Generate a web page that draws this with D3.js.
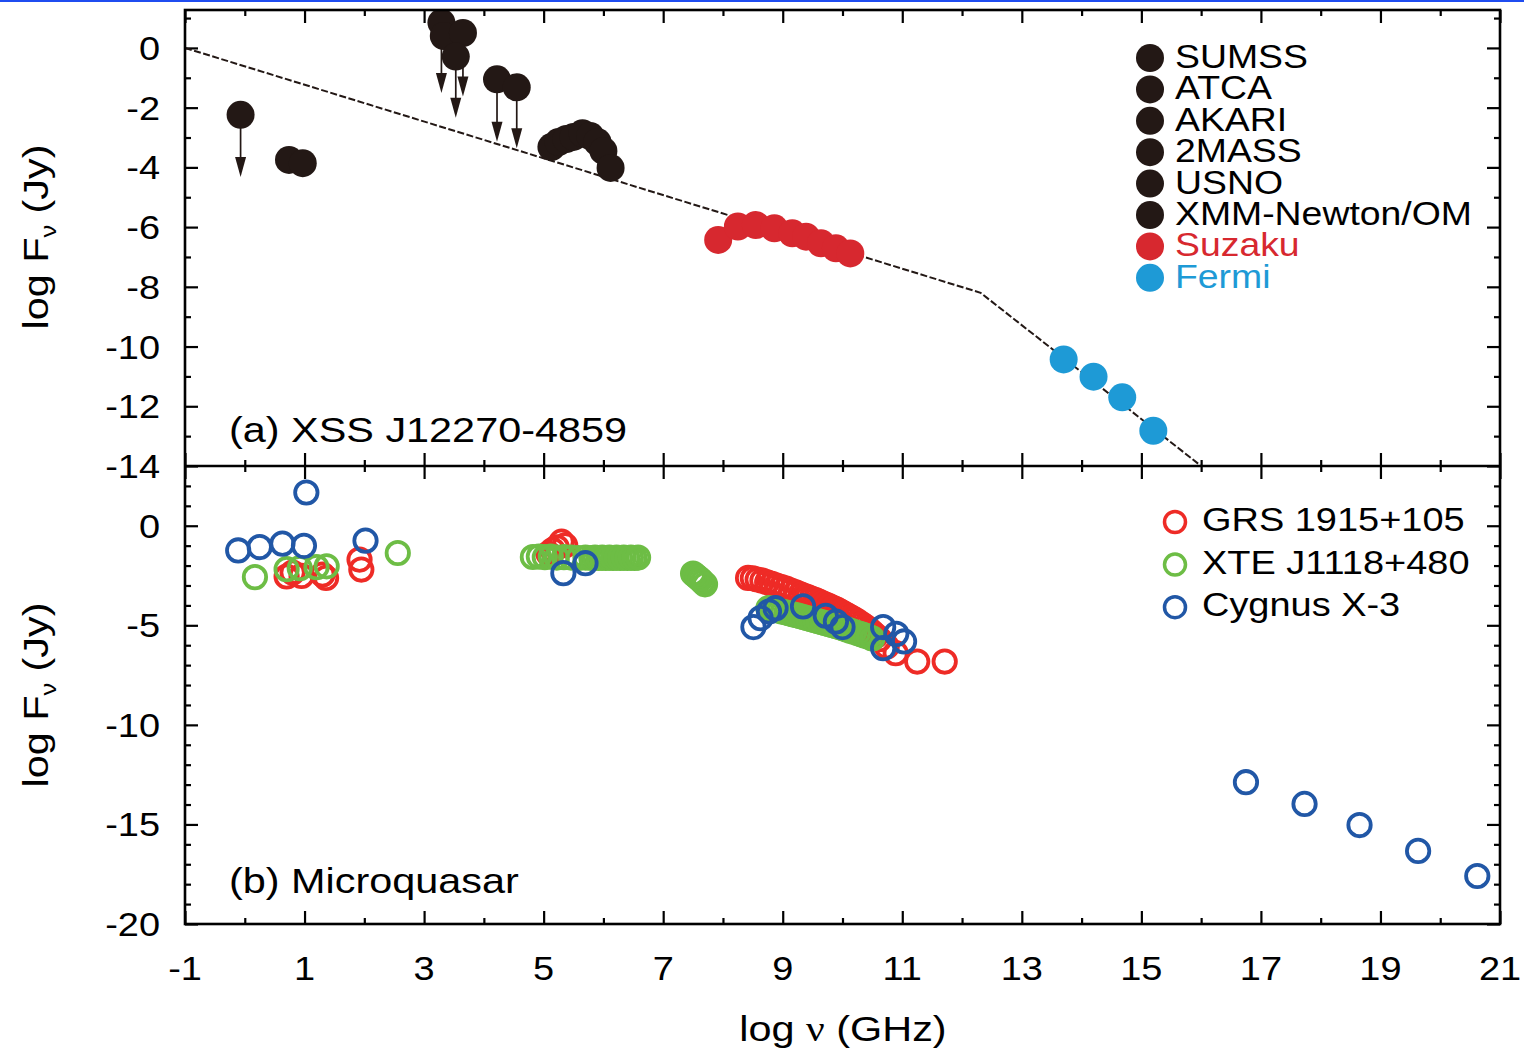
<!DOCTYPE html>
<html>
<head>
<meta charset="utf-8">
<script src="https://cdn.jsdelivr.net/npm/d3@7"></script>
<style>
  html, body { margin: 0; padding: 0; background: #fff; }
  svg { display: block; }
  text { font-family: "Liberation Sans", Arial, Helvetica, sans-serif; fill: #000; }
</style>
</head>
<body>
<svg id="chart" width="1524" height="1054"></svg>
<script>
// ---------- data ----------
// (a) XSS J12270-4859 : log nu [GHz], log F_nu [Jy]
const legendA = ["SUMSS", "ATCA", "AKARI", "2MASS", "USNO", "XMM-Newton/OM", "Suzaku", "Fermi"];
const legendAColor = ["#231815", "#231815", "#231815", "#231815", "#231815", "#231815", "#d7282f", "#1e9ad6"];

// radio / IR / optical / UV photometry (black)
const blackNu = [-0.07, 0.74, 0.97, 3.29, 3.33, 3.65, 3.53, 4.22, 4.55, 5.13, 5.25, 5.38, 5.50, 5.65, 5.78, 5.90, 6.00, 6.12];
const blackF  = [-2.24, -3.75, -3.86, 0.85, 0.40, 0.50, -0.29, -1.05, -1.32, -3.32, -3.15, -3.05, -2.98, -2.86, -2.95, -3.15, -3.45, -4.02];

// upper limits: arrow from the point down to the tip
const limitNu   = [-0.07, 3.29, 3.53, 3.65, 4.22, 4.55];
const limitFrom = [-2.24, 0.85, -0.29, 0.50, -1.05, -1.32];
const limitTo   = [-4.32, -1.51, -2.34, -1.63, -3.14, -3.36];

const suzakuNu = [7.92, 8.25, 8.55, 8.86, 9.16, 9.39, 9.64, 9.89, 10.13];
const suzakuF  = [-6.43, -5.98, -5.93, -6.04, -6.21, -6.32, -6.54, -6.71, -6.88];

const fermiNu = [13.70, 14.20, 14.68, 15.20];
const fermiF  = [-10.43, -11.01, -11.70, -12.82];

// broken power-law model (dashed)
const modelNu = [-1, 12.31, 16.0];
const modelF  = [0, -8.20, -14.0];

// (b) Microquasars
const legendB = ["GRS 1915+105", "XTE J1118+480", "Cygnus X-3"];
const legendBColor = ["#ee2b26", "#6dbd45", "#2157a6"];

const grsNu = [0.70, 0.80, 0.95, 1.30, 1.36, 1.92, 1.95, 5.08, 5.15, 5.22, 5.30, 5.36,
  8.42, 8.50, 8.58, 8.66, 8.74, 8.82, 8.90, 8.98, 9.06, 9.14, 9.22, 9.30, 9.36, 9.42, 9.48, 9.54,
  9.60, 9.66, 9.72, 9.78, 9.84, 9.90, 9.96, 10.02, 10.08, 10.14, 10.20, 10.26, 10.32, 10.38, 10.44,
  10.50, 10.56, 10.62, 10.74, 10.89, 11.25, 11.71];
const grsF = [-2.55, -2.35, -2.52, -2.45, -2.62, -1.70, -2.20, -1.40, -1.22, -1.08, -0.80, -0.98,
  -2.62, -2.64, -2.70, -2.76, -2.84, -2.92, -3.00, -3.08, -3.16, -3.26, -3.34, -3.44, -3.52, -3.58, -3.66, -3.72,
  -3.80, -3.88, -3.96, -4.04, -4.12, -4.20, -4.30, -4.40, -4.50, -4.60, -4.70, -4.82, -4.94, -5.06, -5.20,
  -5.36, -5.52, -5.70, -6.06, -6.40, -6.82, -6.82];

const xteNu = [0.17, 0.70, 0.92, 1.20, 1.37, 2.56,
  4.82, 4.92, 5.02, 5.12, 5.22, 5.34, 5.46, 5.58, 5.70, 5.80, 5.86, 5.92, 5.98, 6.04, 6.10, 6.16,
  6.22, 6.28, 6.34, 6.40, 6.46, 6.52, 6.58,
  7.50, 7.54, 7.58, 7.62, 7.66, 7.70,
  8.76, 8.82, 8.88, 8.94, 9.00, 9.06, 9.12, 9.18, 9.24, 9.30, 9.36, 9.42, 9.48, 9.54, 9.60, 9.66,
  9.72, 9.78, 9.84, 9.90, 9.96, 10.02, 10.08, 10.14, 10.20, 10.26, 10.32, 10.38, 10.44, 10.50];
const xteF = [-2.58, -2.18, -2.13, -2.08, -2.04, -1.37,
  -1.57, -1.55, -1.58, -1.55, -1.60, -1.58, -1.60, -1.62, -1.60, -1.62, -1.60, -1.62, -1.60, -1.62, -1.60, -1.62,
  -1.60, -1.62, -1.60, -1.62, -1.60, -1.62, -1.60,
  -2.40, -2.50, -2.60, -2.70, -2.82, -2.94,
  -4.14, -4.18, -4.22, -4.27, -4.32, -4.36, -4.41, -4.46, -4.50, -4.55, -4.60, -4.65, -4.70, -4.75, -4.80, -4.85,
  -4.90, -4.95, -5.00, -5.05, -5.10, -5.16, -5.22, -5.28, -5.34, -5.40, -5.46, -5.52, -5.58, -5.66];

const cygNu = [-0.11, 0.25, 0.63, 0.99, 1.03, 2.02, 5.33, 5.70,
  8.51, 8.63, 8.77, 8.88, 9.34, 9.72, 9.89, 10.00, 10.68, 10.68, 10.90, 11.03,
  16.75, 17.73, 18.65, 19.63, 20.62];
const cygF = [-1.24, -1.07, -0.90, -1.01, 1.67, -0.75, -2.38, -1.88,
  -5.09, -4.64, -4.31, -4.14, -4.05, -4.52, -4.81, -5.09, -5.09, -6.15, -5.43, -5.81,
  -12.88, -13.97, -15.03, -16.33, -17.59];

// axis ticks
const xTickLabels = [-1, 1, 3, 5, 7, 9, 11, 13, 15, 17, 19, 21];
const yTickLabelsA = [0, -2, -4, -6, -8, -10, -12, -14];
const yTickLabelsB = [0, -5, -10, -15, -20];

// ---------- layout ----------
const svg = d3.select("#chart");
const left = 185, right = 1500, topA = 10, mid = 466, bottomB = 924;
const SX = 1.15;          // horizontal text stretch
const MAJOR = 13, MINOR = 6;

const x = d3.scaleLinear().domain([-1, 21]).range([left, right]);
const yA = d3.scaleLinear().domain([-14, 1.27]).range([mid, topA]);
const yB = d3.scaleLinear().domain([-20, 3]).range([bottomB, mid]);

function label(parent, px, py, str, size, anchor, extra) {
  return parent.append("text")
    .attr("transform", `translate(${px},${py})${extra || ""} scale(${SX},1)`)
    .attr("text-anchor", anchor)
    .attr("font-size", size)
    .text(str);
}

// thin rule along the top edge of the page
svg.append("rect").attr("x", 0).attr("y", 0).attr("width", 1524).attr("height", 2).attr("fill", "#1f4cf0");

// ---------- ticks (inward on all sides) ----------
const axesG = svg.append("g");
function tickAxis(axisFn, scale, values, size, transform) {
  const g = axesG.append("g").attr("transform", transform)
    .call(axisFn(scale).tickValues(values).tickSize(size).tickFormat(""));
  g.select(".domain").remove();
  g.selectAll(".tick line").attr("stroke", "#000").attr("stroke-width", 2.2);
}
const xMajor = d3.range(-1, 22, 2);
const xMinor = d3.range(0, 21, 2);
// panel (a): top edge and divider
tickAxis(d3.axisTop, x, xMajor, -MAJOR, `translate(0,${topA})`);
tickAxis(d3.axisTop, x, xMinor, -MINOR, `translate(0,${topA})`);
tickAxis(d3.axisBottom, x, xMajor, -MAJOR, `translate(0,${mid})`);
tickAxis(d3.axisBottom, x, xMinor, -MINOR, `translate(0,${mid})`);
// panel (b): divider and bottom edge
tickAxis(d3.axisTop, x, xMajor, -MAJOR, `translate(0,${mid})`);
tickAxis(d3.axisTop, x, xMinor, -MINOR, `translate(0,${mid})`);
tickAxis(d3.axisBottom, x, xMajor, -MAJOR, `translate(0,${bottomB})`);
tickAxis(d3.axisBottom, x, xMinor, -MINOR, `translate(0,${bottomB})`);
// y ticks panel (a)
const yAMajor = d3.range(-14, 1, 2), yAMinor = d3.range(-13, 2, 2);
tickAxis(d3.axisLeft, yA, yAMajor, -MAJOR, `translate(${left},0)`);
tickAxis(d3.axisLeft, yA, yAMinor, -MINOR, `translate(${left},0)`);
tickAxis(d3.axisRight, yA, yAMajor, -MAJOR, `translate(${right},0)`);
tickAxis(d3.axisRight, yA, yAMinor, -MINOR, `translate(${right},0)`);
// y ticks panel (b)
const yBMajor = [-20, -15, -10, -5, 0];
const yBMinor = d3.range(-19, 3).filter(v => v % 5 !== 0);
tickAxis(d3.axisLeft, yB, yBMajor, -MAJOR, `translate(${left},0)`);
tickAxis(d3.axisLeft, yB, yBMinor, -MINOR, `translate(${left},0)`);
tickAxis(d3.axisRight, yB, yBMajor, -MAJOR, `translate(${right},0)`);
tickAxis(d3.axisRight, yB, yBMinor, -MINOR, `translate(${right},0)`);

// ---------- panel (a) ----------
svg.append("clipPath").attr("id", "clipA")
  .append("rect").attr("x", left).attr("y", topA).attr("width", right - left).attr("height", mid - topA);
const gA = svg.append("g").attr("clip-path", "url(#clipA)");

const line = d3.line().x(d => x(d[0])).y(d => yA(d[1]));
gA.append("path")
  .datum(modelNu.map((v, i) => [v, modelF[i]]))
  .attr("d", line)
  .attr("fill", "none").attr("stroke", "#231815").attr("stroke-width", 2)
  .attr("stroke-dasharray", "7,2.5");

// upper-limit arrows
const arrowG = gA.append("g");
limitNu.forEach((v, i) => {
  const ax = x(v), y0 = yA(limitFrom[i]), y1 = yA(limitTo[i]);
  arrowG.append("line").attr("x1", ax).attr("x2", ax).attr("y1", y0).attr("y2", y1 - 16)
    .attr("stroke", "#231815").attr("stroke-width", 1.7);
  arrowG.append("path")
    .attr("d", `M${ax - 5.5},${y1 - 20} L${ax + 5.5},${y1 - 20} L${ax},${y1} Z`)
    .attr("fill", "#231815");
});

function dots(g, xs, ys, yScale, color, r) {
  g.append("g").selectAll("circle")
    .data(xs.map((v, i) => [v, ys[i]]))
    .join("circle")
    .attr("cx", d => x(d[0])).attr("cy", d => yScale(d[1]))
    .attr("r", r).attr("fill", color);
}
dots(gA, blackNu, blackF, yA, "#231815", 14);
dots(gA, suzakuNu, suzakuF, yA, "#d7282f", 14);
dots(gA, fermiNu, fermiF, yA, "#1e9ad6", 14);

// legend (a)
const legA = svg.append("g");
legendA.forEach((name, i) => {
  const ly = 58 + i * 31.4;
  legA.append("circle").attr("cx", 1150).attr("cy", ly).attr("r", 14).attr("fill", legendAColor[i]);
  label(legA, 1175, ly + 10, name, 32.5, "start").style("fill", i < 6 ? "#000" : legendAColor[i]);
});

label(svg, 229, 442, "(a) XSS J12270-4859", 36, "start");

// ---------- panel (b) ----------
svg.append("clipPath").attr("id", "clipB")
  .append("rect").attr("x", left).attr("y", mid).attr("width", right - left).attr("height", bottomB - mid);
const gB = svg.append("g").attr("clip-path", "url(#clipB)");

function rings(g, xs, ys, color) {
  g.append("g").selectAll("circle")
    .data(xs.map((v, i) => [v, ys[i]]))
    .join("circle")
    .attr("cx", d => x(d[0])).attr("cy", d => yB(d[1]))
    .attr("r", 11.2).attr("fill", "none")
    .attr("stroke", color).attr("stroke-width", 3.8);
}
rings(gB, grsNu, grsF, legendBColor[0]);
rings(gB, xteNu, xteF, legendBColor[1]);
rings(gB, cygNu, cygF, legendBColor[2]);

const legB = svg.append("g");
legendB.forEach((name, i) => {
  const ly = 522 + i * 42.6;
  legB.append("circle").attr("cx", 1175).attr("cy", ly).attr("r", 10.5)
    .attr("fill", "none").attr("stroke", legendBColor[i]).attr("stroke-width", 3.5);
  label(legB, 1202, ly + 9, name, 33, "start");
});

label(svg, 229, 893, "(b) Microquasar", 36, "start");

// ---------- frame ----------
svg.append("rect").attr("x", left).attr("y", topA).attr("width", right - left).attr("height", bottomB - topA)
  .attr("fill", "none").attr("stroke", "#000").attr("stroke-width", 2.6);
svg.append("line").attr("x1", left).attr("x2", right).attr("y1", mid).attr("y2", mid)
  .attr("stroke", "#000").attr("stroke-width", 2.6);

// ---------- tick labels ----------
const labG = svg.append("g");
yTickLabelsA.forEach(v => label(labG, 160, yA(v) + 12, String(v), 33, "end"));
yTickLabelsB.forEach(v => label(labG, 160, yB(v) + 12, String(v), 33, "end"));
xTickLabels.forEach(v => label(labG, x(v), 980, String(v), 33, "middle"));

// ---------- axis titles ----------
function yTitle(cy) {
  const t = svg.append("text")
    .attr("transform", `translate(48,${cy}) rotate(-90) scale(${SX},1)`)
    .attr("text-anchor", "middle").attr("font-size", 36);
  t.append("tspan").text("log F");
  t.append("tspan").attr("font-size", 22).attr("dy", 8).text("ν");
  t.append("tspan").attr("dy", -8).text(" (Jy)");
}
yTitle(237);
yTitle(695);

const xt = svg.append("text")
  .attr("transform", `translate(843,1041) scale(${SX},1)`)
  .attr("text-anchor", "middle").attr("font-size", 36);
xt.append("tspan").text("log ");
xt.append("tspan").attr("font-family", "'Liberation Serif', 'DejaVu Serif', serif").text("ν");
xt.append("tspan").text(" (GHz)");
</script>
</body>
</html>
